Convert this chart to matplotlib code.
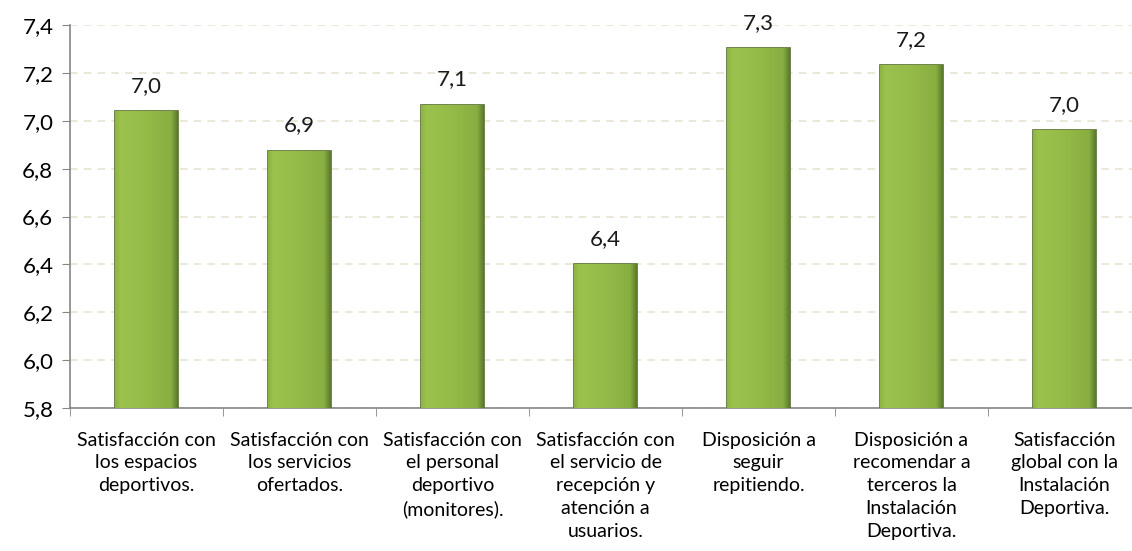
import matplotlib.pyplot as plt
import numpy as np
from matplotlib.ticker import FixedLocator
from matplotlib.colors import LinearSegmentedColormap

categorias = [
    "Satisfacción con\nlos espacios\ndeportivos.",
    "Satisfacción con\nlos servicios\nofertados.",
    "Satisfacción con\nel personal\ndeportivo\n(monitores).",
    "Satisfacción con\nel servicio de\nrecepción y\natención a\nusuarios.",
    "Disposición a\nseguir\nrepitiendo.",
    "Disposición a\nrecomendar a\nterceros la\nInstalación\nDeportiva.",
    "Satisfacción\nglobal con la\nInstalación\nDeportiva.",
]
valores = [7.04, 6.875, 7.067, 6.40, 7.304, 7.233, 6.96]
etiquetas = ["7,0", "6,9", "7,1", "6,4", "7,3", "7,2", "7,0"]
y_ticks = [5.8, 6.0, 6.2, 6.4, 6.6, 6.8, 7.0, 7.2, 7.4]

plt.rcParams['font.family'] = ['Lato', 'DejaVu Sans']

fig = plt.figure(figsize=(11.32, 5.51), dpi=100)
# the plot area runs past the right edge of the picture, as in the original
ax = fig.add_axes([70 / 1132, 143 / 551, 1071 / 1132, 383 / 551])

x = list(range(len(valores)))
bars = ax.bar(x, [v - 5.8 for v in valores], bottom=5.8, width=0.41,
              color='#8fb444', edgecolor='#55702c', linewidth=1.2, zorder=3)

# soft shading on the bars, mostly flat with a darker right edge
cmap = LinearSegmentedColormap.from_list('verde', [
    (0.0, '#8db444'), (0.08, '#9cc24e'), (0.5, '#94ba48'),
    (0.9, '#89ae41'), (1.0, '#5b7b2c')])
grad = np.linspace(0, 1, 64).reshape(1, -1)
for b in bars:
    x0, y0 = b.get_x(), b.get_y()
    w, h = b.get_width(), b.get_height()
    im = ax.imshow(grad, cmap=cmap, extent=(x0, x0 + w, y0, y0 + h),
                   aspect='auto', zorder=3.5, interpolation='bicubic')
    im.set_clip_path(b)

for xi, v, t in zip(x, valores, etiquetas):
    ax.annotate(t, (xi, v), xytext=(0, 11), textcoords='offset points',
                ha='center', va='bottom', fontsize=16, color='#1a1a1a')

ax.set_xlim(-0.5, len(valores) - 0.5)
ax.set_ylim(5.8, 7.4)
ax.set_yticks(y_ticks)
ax.set_yticklabels([f"{t:.1f}".replace('.', ',') for t in y_ticks], fontsize=16)
ax.yaxis.grid(True, linestyle=(0, (5, 4)), color='#e6e2d0', linewidth=1.1, zorder=0)

ax.set_xticks(x)
ax.set_xticklabels(categorias, fontsize=14, linespacing=1.42, va='top')
ax.tick_params(axis='x', which='major', length=0, pad=17)
ax.xaxis.set_minor_locator(FixedLocator([i - 0.5 for i in range(len(valores) + 1)]))
ax.tick_params(axis='x', which='minor', length=6, color='#868686')
ax.tick_params(axis='y', length=6, color='#868686', pad=6)

for s in ['top', 'right']:
    ax.spines[s].set_visible(False)
for s in ['left', 'bottom']:
    ax.spines[s].set_color('#868686')
    ax.spines[s].set_linewidth(1.2)

fig.savefig('out.png', dpi=100)
